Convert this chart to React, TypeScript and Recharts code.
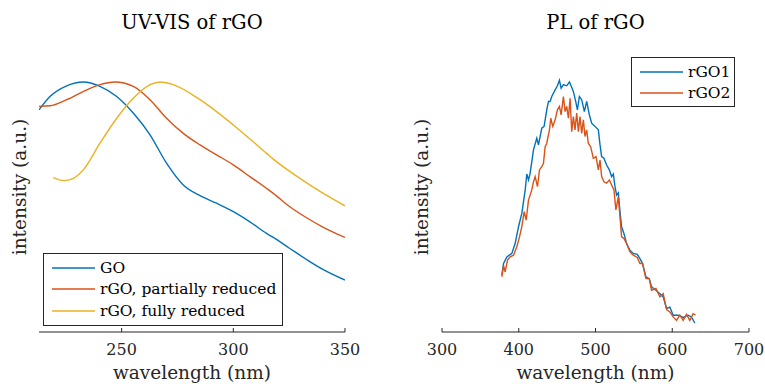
import React from 'react';
import { LineChart, Line, XAxis, YAxis, Legend } from 'recharts';

// UV-VIS panel
const goWavelength = [213, 217.9, 225.4, 232.8, 240.3, 247.8, 255.2, 262.7, 270.1, 277.6, 285.1, 292.5, 300, 307.4, 314.9, 317.9, 325.3, 332.8, 340.3, 350];
const goIntensity = [0.766, 0.812, 0.849, 0.862, 0.847, 0.812, 0.755, 0.68, 0.582, 0.507, 0.47, 0.444, 0.415, 0.38, 0.34, 0.326, 0.288, 0.25, 0.215, 0.179];

const partialWavelength = [213, 217.9, 225.4, 232.8, 240.3, 247, 255.2, 262.7, 270.1, 277.6, 285.1, 292.5, 300, 307.4, 314.9, 317.9, 325.3, 332.8, 340.3, 350];
const partialIntensity = [0.778, 0.78, 0.801, 0.829, 0.853, 0.862, 0.847, 0.801, 0.737, 0.685, 0.645, 0.611, 0.576, 0.536, 0.495, 0.478, 0.432, 0.394, 0.361, 0.326];

const fullWavelength = [219.4, 223.9, 228.4, 232.8, 240.3, 247.8, 255.2, 262.7, 267.2, 273.1, 285.1, 300, 314.9, 317.9, 329.8, 340.3, 350];
const fullIntensity = [0.532, 0.522, 0.53, 0.559, 0.651, 0.737, 0.806, 0.853, 0.862, 0.853, 0.801, 0.714, 0.616, 0.596, 0.53, 0.478, 0.435];

// PL panel
const rgo1Wavelength = [378, 380.2, 384.5, 391, 395.3, 399.7, 404, 408.4, 410.5, 412.7, 414.8, 419.2, 423.5, 425.7, 430, 433, 436.5, 438.7, 440.9, 443, 447.4, 450.4, 453, 455.2, 458.2, 462.5, 466, 469, 471.2, 474.2, 476.4, 479, 482, 485.5, 488.5, 492, 495, 499.4, 503.7, 505.9, 508, 511, 514.5, 518, 521, 523.2, 525.4, 527.5, 529.7, 531.9, 534, 537, 540.5, 544.9, 549.2, 554.4, 557.9, 561.3, 565.7, 570, 573, 578.7, 583.9, 588.2, 592.6, 596.9, 601.2, 607.7, 614.2, 620.7, 625, 629.4];
const rgo1Intensity = [0.196, 0.236, 0.259, 0.271, 0.305, 0.363, 0.409, 0.49, 0.545, 0.524, 0.547, 0.628, 0.668, 0.645, 0.703, 0.709, 0.766, 0.795, 0.795, 0.812, 0.835, 0.849, 0.868, 0.841, 0.853, 0.849, 0.862, 0.844, 0.829, 0.795, 0.766, 0.812, 0.801, 0.76, 0.795, 0.749, 0.72, 0.709, 0.697, 0.645, 0.605, 0.599, 0.576, 0.559, 0.536, 0.545, 0.501, 0.472, 0.48, 0.415, 0.363, 0.34, 0.305, 0.282, 0.271, 0.268, 0.253, 0.236, 0.19, 0.184, 0.156, 0.144, 0.132, 0.121, 0.081, 0.086, 0.058, 0.058, 0.05, 0.058, 0.052, 0.031];

const rgo2Wavelength = [378, 380.2, 382.3, 385.4, 388.8, 393.2, 397.5, 401, 404, 407.1, 409.7, 412.7, 417, 419.2, 421.4, 424.4, 427, 430, 432.2, 434.4, 436.5, 440, 441.7, 444.3, 447.4, 450.4, 453, 455.2, 458.2, 460.4, 462.5, 464.7, 466.9, 469, 471.2, 473.3, 475.5, 477.7, 479.8, 482, 484.2, 486.3, 488.5, 490.6, 493.7, 497.2, 500.7, 503.7, 505.9, 508, 511, 514.5, 518, 521, 524, 526.6, 529.7, 531.9, 534, 537, 540.5, 544.9, 549.2, 554.4, 557.9, 561.3, 565.7, 570, 573, 578.7, 583.9, 588.2, 592.6, 596.9, 601.2, 605.6, 609.9, 614.2, 618.6, 622.9, 627.2, 630.3];
const rgo2Intensity = [0.19, 0.23, 0.207, 0.248, 0.259, 0.265, 0.294, 0.328, 0.363, 0.415, 0.386, 0.455, 0.49, 0.518, 0.536, 0.501, 0.559, 0.57, 0.582, 0.639, 0.651, 0.697, 0.737, 0.709, 0.732, 0.766, 0.778, 0.749, 0.812, 0.76, 0.778, 0.737, 0.806, 0.691, 0.743, 0.697, 0.755, 0.691, 0.743, 0.685, 0.732, 0.674, 0.697, 0.651, 0.639, 0.599, 0.605, 0.559, 0.593, 0.536, 0.518, 0.513, 0.524, 0.507, 0.49, 0.421, 0.467, 0.397, 0.328, 0.323, 0.305, 0.276, 0.265, 0.257, 0.236, 0.236, 0.184, 0.184, 0.144, 0.15, 0.121, 0.132, 0.077, 0.069, 0.052, 0.04, 0.058, 0.04, 0.061, 0.04, 0.063, 0.058];

const uvTicks = [250, 300, 350];
const plTicks = [300, 400, 500, 600, 700];

const uvNames = ['GO', 'rGO, partially reduced', 'rGO, fully reduced'];
const plNames = ['rGO1', 'rGO2'];
const colors = ['#0072BD', '#D95319', '#EDB120'];

const FONT = '"DejaVu Serif", "Liberation Serif", serif';
const AXIS = '#262626';

const toPoints = (xs: number[], ys: number[]) => xs.map((x, i) => ({ x, y: ys[i] }));

const BottomTick = (props: any) => {
  const { x, y, payload } = props;
  return (
    <g>
      <line x1={x} x2={x} y1={y} y2={y - 4} stroke={AXIS} strokeWidth={1} />
      <text x={x} y={y + 23} textAnchor="middle" fontFamily={FONT} fontSize={16} fill={AXIS}>
        {payload.value}
      </text>
    </g>
  );
};

const LegendBox = ({ names, width, height }: { names: string[]; width: number; height: number }) => (
  <div
    style={{
      width,
      height,
      boxSizing: 'border-box',
      border: `1px solid ${AXIS}`,
      background: '#fff',
      fontFamily: FONT,
      fontSize: 15.5,
      color: '#000',
      paddingTop: 3,
    }}
  >
    {names.map((n, i) => (
      <div key={n} style={{ display: 'flex', alignItems: 'center', height: 21.5, whiteSpace: 'nowrap' }}>
        <svg width={56} height={10}>
          <line x1={8} x2={51} y1={5} y2={5} stroke={colors[i]} strokeWidth={1.5} />
        </svg>
        <span>{n}</span>
      </div>
    ))}
  </div>
);

const uvSeries = [
  toPoints(goWavelength, goIntensity),
  toPoints(partialWavelength, partialIntensity),
  toPoints(fullWavelength, fullIntensity),
];
const plSeries = [toPoints(rgo1Wavelength, rgo1Intensity), toPoints(rgo2Wavelength, rgo2Intensity)];

export default function App() {
  return (
    <div style={{ position: 'absolute', left: 0, top: 0, width: 765, height: 386, background: '#fff' }}>
      <div style={{ position: 'absolute', left: 0, top: 0 }}>
        <LineChart width={380} height={386} margin={{ top: 42, right: 35, left: 39, bottom: 24 }}>
          <XAxis
            type="number"
            dataKey="x"
            domain={[213, 350]}
            ticks={uvTicks}
            allowDataOverflow
            height={30}
            tickSize={0}
            tickMargin={0}
            tickLine={false}
            tick={<BottomTick />}
            axisLine={{ stroke: AXIS }}
          />
          <YAxis type="number" domain={[0, 1]} width={0} tick={false} tickLine={false} axisLine={{ stroke: AXIS }} />
          {uvSeries.map((d, i) => (
            <Line
              key={uvNames[i]}
              data={d}
              dataKey="y"
              name={uvNames[i]}
              type="monotone"
              stroke={colors[i]}
              strokeWidth={1.4}
              dot={false}
              isAnimationActive={false}
            />
          ))}
          <Legend
            layout="vertical"
            align="center"
            verticalAlign="middle"
            wrapperStyle={{ left: 43, top: 253, width: 240, height: 73 }}
            content={() => <LegendBox names={uvNames} width={240} height={73} />}
          />
          <text x={192} y={29} textAnchor="middle" fontFamily={FONT} fontSize={19.5} fill="#000">
            UV-VIS of rGO
          </text>
          <text x={192} y={379} textAnchor="middle" fontFamily={FONT} fontSize={18.5} fill={AXIS}>
            wavelength (nm)
          </text>
          <text x={26} y={187} transform="rotate(-90, 26, 187)" textAnchor="middle" fontFamily={FONT} fontSize={18.5} fill={AXIS}>
            intensity (a.u.)
          </text>
        </LineChart>
      </div>
      <div style={{ position: 'absolute', left: 380, top: 0 }}>
        <LineChart width={385} height={386} margin={{ top: 42, right: 16, left: 62, bottom: 24 }}>
          <XAxis
            type="number"
            dataKey="x"
            domain={[300, 700]}
            ticks={plTicks}
            allowDataOverflow
            height={30}
            tickSize={0}
            tickMargin={0}
            tickLine={false}
            tick={<BottomTick />}
            axisLine={{ stroke: AXIS }}
          />
          <YAxis type="number" domain={[0, 1]} width={0} tick={false} tickLine={false} axisLine={{ stroke: AXIS }} />
          {plSeries.map((d, i) => (
            <Line
              key={plNames[i]}
              data={d}
              dataKey="y"
              name={plNames[i]}
              type="linear"
              stroke={colors[i]}
              strokeWidth={1.4}
              dot={false}
              isAnimationActive={false}
            />
          ))}
          <Legend
            layout="vertical"
            align="center"
            verticalAlign="middle"
            wrapperStyle={{ left: 251, top: 57, width: 104, height: 50 }}
            content={() => <LegendBox names={plNames} width={104} height={50} />}
          />
          <text x={215.5} y={29} textAnchor="middle" fontFamily={FONT} fontSize={19.5} fill="#000">
            PL of rGO
          </text>
          <text x={215.5} y={379} textAnchor="middle" fontFamily={FONT} fontSize={18.5} fill={AXIS}>
            wavelength (nm)
          </text>
          <text x={48} y={187} transform="rotate(-90, 48, 187)" textAnchor="middle" fontFamily={FONT} fontSize={18.5} fill={AXIS}>
            intensity (a.u.)
          </text>
        </LineChart>
      </div>
    </div>
  );
}
